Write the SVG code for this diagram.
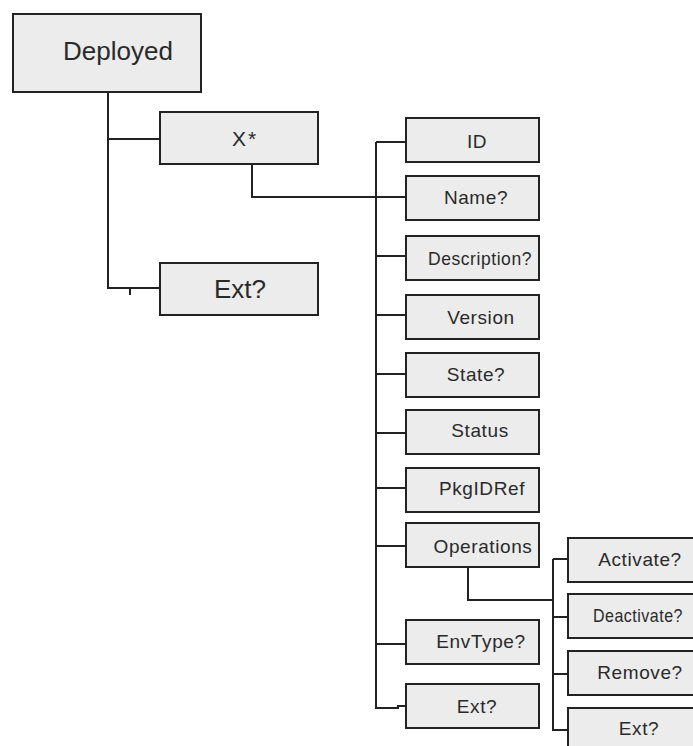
<svg xmlns="http://www.w3.org/2000/svg" width="693" height="746" viewBox="0 0 693 746">
<style>
.box{fill:#ececec;stroke:#222;stroke-width:2}
.lbl{font-family:"Liberation Sans",Arial,sans-serif;fill:#2a2a2a;text-anchor:middle}
.s{font-size:19px;letter-spacing:0.6px}
.ln{fill:none;stroke:#222;stroke-width:2}
</style>
<rect width="693" height="746" fill="#ffffff"/>
<g id="connectors">
<path class="ln" d="M108 92V288H160M108 139H160M130 288V295"/>
<path class="ln" d="M252 164V197H406"/>
<path class="ln" d="M376 142V708H398V706H406M376 142H406M376 256H406M376 315H406M376 374H406M376 433H406M376 488H406M376 546H406M376 644H406"/>
<path class="ln" d="M468 567V600H553"/>
<path class="ln" d="M553 559V730H568M553 559H568M553 617H568M553 674H568"/>
</g>
<g id="deployed"><rect class="box" x="13" y="14" width="188" height="78"/><text class="lbl" x="118" y="60" font-size="26">Deployed</text></g>
<g id="x"><rect class="box" x="160" y="112" width="158" height="52"/><text class="lbl" x="245" y="146" font-size="21" letter-spacing="2">X*</text></g>
<g id="ext1"><rect class="box" x="160" y="263" width="158" height="52"/><text class="lbl" x="240" y="298" font-size="26">Ext?</text></g>
<g id="id"><rect class="box" x="406" y="118" width="133" height="44"/><text class="lbl s" x="477" y="148">ID</text></g>
<g id="name"><rect class="box" x="406" y="176" width="133" height="44"/><text class="lbl s" x="476" y="204">Name?</text></g>
<g id="description"><rect class="box" x="406" y="236" width="133" height="44"/><text class="lbl s" x="480" y="265" textLength="104" lengthAdjust="spacingAndGlyphs">Description?</text></g>
<g id="version"><rect class="box" x="406" y="295" width="133" height="44"/><text class="lbl s" x="481" y="324">Version</text></g>
<g id="state"><rect class="box" x="406" y="353" width="133" height="44"/><text class="lbl s" x="476" y="381">State?</text></g>
<g id="status"><rect class="box" x="406" y="410" width="133" height="44"/><text class="lbl s" x="480" y="437">Status</text></g>
<g id="pkgidref"><rect class="box" x="406" y="468" width="133" height="44"/><text class="lbl s" x="482" y="495">PkgIDRef</text></g>
<g id="operations"><rect class="box" x="406" y="523" width="133" height="44"/><text class="lbl s" x="483" y="553">Operations</text></g>
<g id="envtype"><rect class="box" x="406" y="620" width="133" height="44"/><text class="lbl s" x="481" y="648">EnvType?</text></g>
<g id="ext2"><rect class="box" x="406" y="684" width="133" height="44"/><text class="lbl s" x="477" y="713">Ext?</text></g>
<g id="activate"><rect class="box" x="568" y="538" width="132" height="44"/><text class="lbl s" x="640" y="566">Activate?</text></g>
<g id="deactivate"><rect class="box" x="568" y="594" width="132" height="44"/><text class="lbl s" x="638" y="622" textLength="90" lengthAdjust="spacingAndGlyphs">Deactivate?</text></g>
<g id="remove"><rect class="box" x="568" y="651" width="132" height="44"/><text class="lbl s" x="640" y="679">Remove?</text></g>
<g id="ext3"><rect class="box" x="568" y="708" width="132" height="44"/><text class="lbl s" x="639" y="735">Ext?</text></g>
</svg>
